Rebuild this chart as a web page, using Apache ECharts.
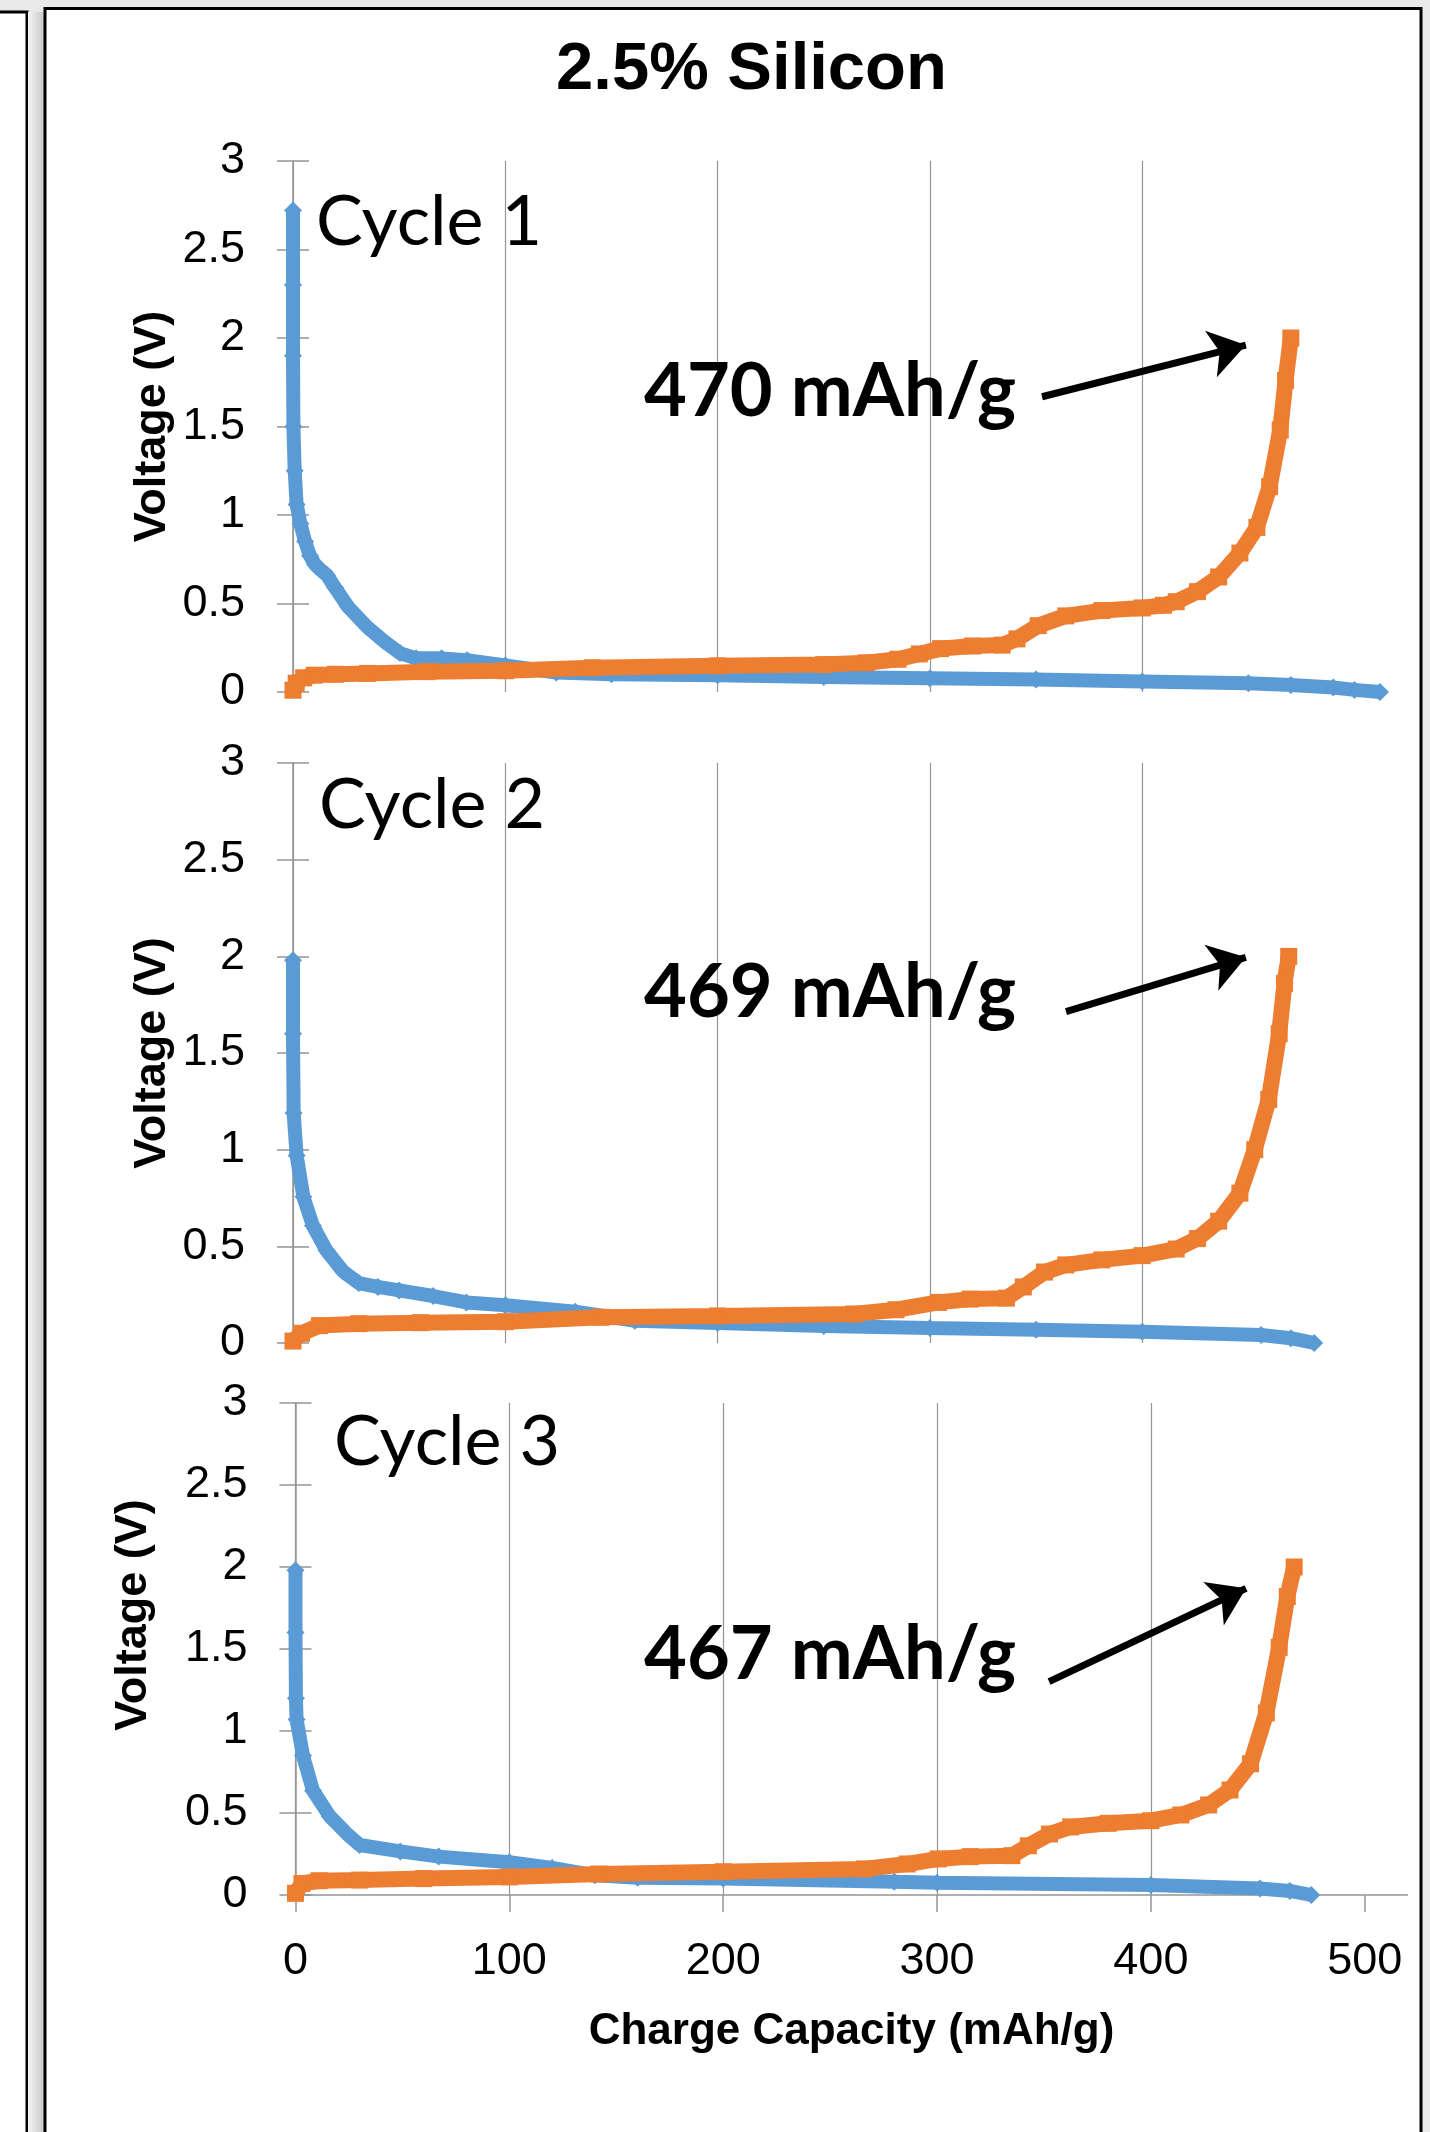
<!DOCTYPE html>
<html><head><meta charset="utf-8">
<script src="https://cdn.jsdelivr.net/npm/echarts@6/dist/echarts.min.js"></script>
<style>html,body{margin:0;padding:0;background:#e9e9e9;} #c{width:1430px;height:2132px;}</style>
</head><body><div id="c"></div>
<script>
// ---------- data ----------
const chartTitle = '2.5% Silicon';
const xTickValues = [0, 100, 200, 300, 400, 500];
const cycleLabels = ['Cycle 1', 'Cycle 2', 'Cycle 3'];
const capacityLabels = ['470 mAh/g', '469 mAh/g', '467 mAh/g'];

// discharge (blue) : [capacity mAh/g, voltage V]
const discharge1 = [[0,2.72],[0,2.3],[0,1.9],[0.2,1.5],[0.8,1.25],[1.7,1.06],[3.5,0.95],[5.7,0.85],[8,0.77],[10.4,0.72],[13,0.69],[16,0.66],[19.8,0.59],[26,0.48],[34.7,0.37],[42.5,0.29],[50.4,0.22],[58,0.19],[70,0.19],[82,0.18],[100,0.15],[124,0.11],[150,0.1],[200,0.095],[250,0.085],[300,0.078],[350,0.07],[400,0.06],[450,0.05],[470,0.04],[490,0.025],[500,0.012],[512,0]];
const discharge2 = [[0,1.98],[0,1.6],[0.3,1.19],[1.7,0.97],[4.9,0.756],[9.4,0.606],[15.8,0.478],[23.6,0.37],[31,0.31],[40,0.29],[50,0.272],[66,0.243],[81.7,0.21],[100,0.195],[133,0.162],[161,0.115],[200,0.103],[250,0.088],[300,0.077],[350,0.068],[400,0.058],[456,0.041],[470,0.025],[481,0]];
const discharge3 = [[0,1.98],[0,1.6],[0.2,1.2],[0.5,1.07],[3.5,0.85],[8.2,0.636],[16,0.48],[24,0.374],[30,0.305],[49,0.266],[67,0.234],[100,0.2],[120,0.165],[140,0.12],[160,0.105],[200,0.1],[280,0.081],[300,0.075],[400,0.061],[451,0.04],[465,0.025],[475,0]];

// charge (orange)
const charge1 = [[0,0.01],[1.5,0.05],[5,0.08],[10,0.095],[20,0.1],[35,0.105],[63,0.115],[100,0.12],[141,0.137],[200,0.148],[250,0.155],[270,0.165],[285,0.185],[295,0.215],[305,0.245],[320,0.26],[334,0.265],[341,0.3],[351,0.375],[364,0.43],[381,0.46],[400,0.475],[410,0.49],[416,0.51],[426,0.567],[436,0.65],[446,0.785],[454,0.93],[460,1.16],[465,1.48],[467.5,1.76],[470,2.0]];
const charge2 = [[0,0.01],[4,0.05],[12.5,0.09],[31,0.1],[60,0.105],[100,0.11],[145,0.133],[200,0.14],[264,0.15],[284,0.172],[304,0.21],[319,0.227],[336,0.232],[344,0.29],[354,0.367],[364,0.404],[381,0.43],[400,0.452],[416,0.486],[426,0.54],[436,0.63],[446,0.775],[453,1.0],[459.6,1.26],[464.5,1.6],[467,1.86],[469,2.0]];
const charge3 = [[0,0.01],[3,0.07],[11,0.087],[30,0.091],[60,0.1],[100,0.11],[142,0.128],[200,0.142],[266,0.159],[286,0.189],[300.6,0.22],[315.5,0.234],[335,0.24],[342.7,0.3],[352.6,0.372],[362.5,0.415],[380,0.437],[400,0.453],[414,0.488],[427,0.549],[437,0.64],[446.6,0.8],[454,1.11],[460,1.51],[463.8,1.82],[467,2.0]];

// annotation arrows in data space: [tail, tip]
const arrow1 = [[352.8,1.668],[448.8,1.96]];
const arrow2 = [[364.1,1.714],[448.8,1.995]];
const arrow3 = [[352.4,1.301],[444.5,1.87]];

// ---------- styling ----------
const BLUE = '#5b9bd5', ORANGE = '#ed7d31', GRID = '#959595';
const SANS = '"Liberation Sans", Arial, sans-serif';
const HUMAN = 'Lato, "Open Sans", "Noto Sans", sans-serif';

const discharges = [discharge1, discharge2, discharge3];
const charges = [charge1, charge2, charge3];
const arrows = [arrow1, arrow2, arrow3];

const grids = [
  {left: 293, top: 161, width: 1104, height: 531},
  {left: 293, top: 763, width: 1104, height: 580},
  {left: 295.5, top: 1403, width: 1112, height: 492}
];
const yNameGap = [118, 118, 139];
const yNamePad = [[0,0,0,0],[0,0,0,0],[0,0,0,68]];

const xAxes = [], yAxes = [], series = [];
for (let i = 0; i < 3; i++) {
  const last = i === 2;
  xAxes.push({
    gridIndex: i, type: 'value', min: 0, max: 520, interval: 100,
    axisLine: {show: last, onZero: false, lineStyle: {color: GRID, width: 1.5}},
    axisTick: {show: last, length: 17, lineStyle: {color: GRID, width: 1.5}, customValues: xTickValues},
    axisLabel: {show: last, fontSize: 45, fontFamily: SANS, color: '#000', margin: 44, customValues: xTickValues},
    splitLine: {show: true, showMaxLine: false, lineStyle: {color: GRID, width: 1.2}},
    name: last ? 'Charge Capacity (mAh/g)' : '',
    nameLocation: 'middle', nameGap: 115, nameMoveOverlap: false,
    nameTextStyle: {fontSize: 44, fontWeight: 'bold', fontFamily: SANS, color: '#000'}
  });
  yAxes.push({
    gridIndex: i, type: 'value', min: 0, max: 3, interval: 0.5, position: 'left',
    axisLine: {show: true, onZero: false, lineStyle: {color: GRID, width: 1.5}},
    axisTick: {show: true, length: 16, lineStyle: {color: GRID, width: 1.5}},
    axisLabel: {fontSize: 45, fontFamily: SANS, color: '#000', margin: 48},
    splitLine: {show: false},
    name: 'Voltage (V)', nameLocation: 'middle', nameGap: yNameGap[i], nameMoveOverlap: false,
    nameTextStyle: {fontSize: 45, fontWeight: 'bold', fontFamily: SANS, color: '#000', padding: yNamePad[i]}
  });
  yAxes.push({
    gridIndex: i, type: 'value', min: 0, max: 3, interval: 0.5, position: 'left', offset: 0,
    axisLine: {show: false}, axisLabel: {show: false}, splitLine: {show: false},
    axisTick: {show: true, inside: true, length: 16, lineStyle: {color: GRID, width: 1.5}}
  });
  series.push({
    type: 'line', name: 'Discharge', xAxisIndex: i, yAxisIndex: 2 * i, data: discharges[i],
    symbol: 'diamond', symbolSize: 18, showAllSymbol: true, silent: true, z: 2,
    lineStyle: {width: 14, color: BLUE}, itemStyle: {color: BLUE}
  });
  series.push({
    type: 'line', name: 'Charge', xAxisIndex: i, yAxisIndex: 2 * i, data: charges[i],
    symbol: 'rect', symbolSize: 17, showAllSymbol: true, silent: true, z: 3,
    lineStyle: {width: 16, color: ORANGE}, itemStyle: {color: ORANGE},
    markLine: {
      silent: true, symbol: ['none', 'arrow'], symbolSize: 36, precision: 3,
      lineStyle: {color: '#000', width: 7, type: 'solid'}, label: {show: false},
      emphasis: {disabled: true}, z: 5,
      data: [[{coord: arrows[i][0]}, {coord: arrows[i][1]}]]
    }
  });
}

const cyclePos = [[316, 222], [319, 805], [334, 1442]];
const capPos = [[644, 392], [644, 993], [644, 1655]];
const graphics = [
  {type: 'rect', z: -100, shape: {x: -10, y: 12, width: 37, height: 2200}, style: {fill: '#fff', stroke: '#000', lineWidth: 3}},
  {type: 'rect', z: -100, shape: {x: 28, y: 12, width: 16, height: 2200}, style: {fill: {type: 'linear', x: 0, y: 0, x2: 1, y2: 0, colorStops: [{offset: 0, color: '#f4f4f4'}, {offset: 1, color: '#c9c9c9'}]}}},
  {type: 'rect', z: -100, shape: {x: 45, y: 8.5, width: 1376, height: 2200}, style: {fill: '#fff', stroke: '#000', lineWidth: 3}}
];
for (let i = 0; i < 3; i++) {
  graphics.push({type: 'text', z: 100, style: {text: cycleLabels[i], x: cyclePos[i][0], y: cyclePos[i][1], font: '70px ' + HUMAN, fill: '#000', textAlign: 'left', textVerticalAlign: 'middle'}});
  graphics.push({type: 'text', z: 100, style: {text: capacityLabels[i], x: capPos[i][0], y: capPos[i][1], font: 'bold 74px ' + HUMAN, fill: '#000', textAlign: 'left', textVerticalAlign: 'middle'}});
}

const chart = echarts.init(document.getElementById('c'), null, {renderer: 'canvas', width: 1430, height: 2132});
chart.setOption({
  animation: false,
  backgroundColor: '#e9e9e9',
  title: {text: chartTitle, left: 556, top: 37, padding: 0,
    textStyle: {fontSize: 67, fontWeight: 'bold', fontFamily: SANS, color: '#000'}},
  grid: grids,
  xAxis: xAxes,
  yAxis: yAxes,
  series: series,
  graphic: graphics
});
</script>
</body></html>
